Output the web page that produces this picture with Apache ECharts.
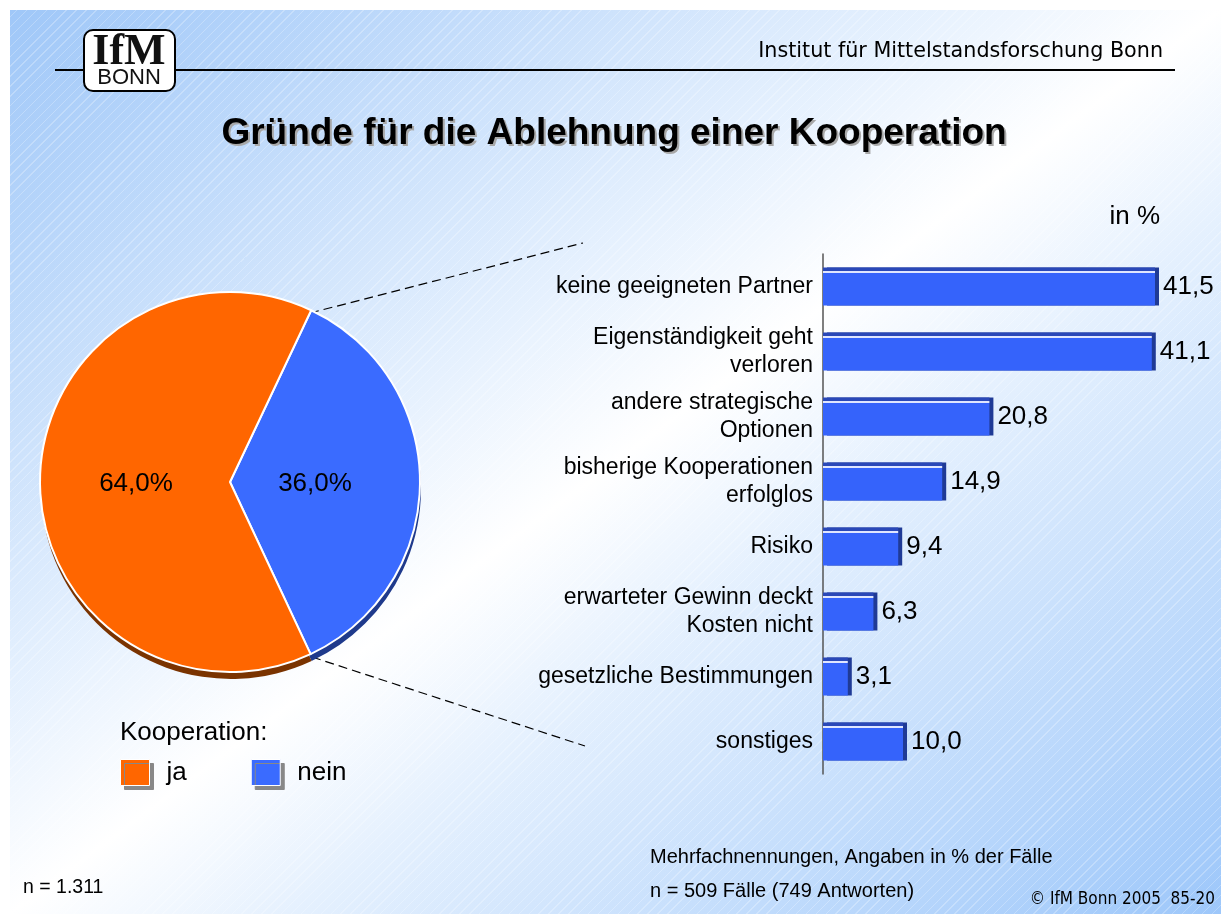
<!DOCTYPE html>
<html lang="de">
<head>
    <meta charset="UTF-8">
    <title>Gründe für die Ablehnung einer Kooperation</title>
    <script src="https://cdn.jsdelivr.net/npm/echarts@6/dist/echarts.min.js"></script>
    <style>
        body { margin: 0; background: #fff; }
        #bg {
            position: absolute; left: 10px; top: 10px; width: 1211px; height: 904px;
            background:
                repeating-linear-gradient(-45deg, rgba(255,255,255,0) 0px, rgba(255,255,255,0) 6px, rgba(255,255,255,0.25) 6px, rgba(255,255,255,0.25) 7px),
                linear-gradient(to bottom right, #9fc7f8 0%, #e6f1fe 38%, #ffffff 50%, #e4f0fe 62%, #9dc7fa 100%);
        }
        #myChart { position: absolute; left: 0; top: 0; width: 1221px; height: 914px; }
    </style>
</head>
<body>
<div id="bg"></div>
<div id="myChart"></div>
<script type="text/javascript">
    // Kooperation ja / nein (Kreis)
    var pieNames = ['nein', 'ja'];
    var pieValues = [36.0, 64.0];
    var pieColors = ['#3a6bff', '#ff6600'];
    var pieDark = ['#1f3a8c', '#7a3300'];

    // Gründe (Balken), in %
    var reasons = [
        'keine geeigneten Partner',
        'Eigenständigkeit geht\nverloren',
        'andere strategische\nOptionen',
        'bisherige Kooperationen\nerfolglos',
        'Risiko',
        'erwarteter Gewinn deckt\nKosten nicht',
        'gesetzliche Bestimmungen',
        'sonstiges'
    ];
    var reasonValues = [41.5, 41.1, 20.8, 14.9, 9.4, 6.3, 3.1, 10.0];

    var myChart = echarts.init(document.getElementById('myChart'));

    function fmt(v) {
        return v.toFixed(1).replace('.', ',');
    }

    // Beschriftung im Kreis etwas verschieben
    var pieLabelOffset = { nein: [-13, 2], ja: [4, 2] };

    var pieData = [];
    var shadowData = [];
    for (var i = 0; i < pieNames.length; i++) {
        pieData.push({
            name: pieNames[i],
            value: pieValues[i],
            itemStyle: { color: pieColors[i] },
            label: { offset: pieLabelOffset[pieNames[i]] }
        });
        shadowData.push({ name: pieNames[i] + '_s', value: pieValues[i], itemStyle: { color: pieDark[i] } });
    }

    var barColor = new echarts.graphic.LinearGradient(0, 0, 0, 1, [
        { offset: 0, color: '#2a48b8' },
        { offset: 0.1, color: '#2a48b8' },
        { offset: 0.1, color: '#dfe6ff' },
        { offset: 0.14, color: '#dfe6ff' },
        { offset: 0.14, color: '#3563fb' },
        { offset: 1, color: '#3563fb' }
    ]);

    var sans = '"Liberation Sans", Arial, sans-serif';

    var option = {
        animation: false,
        textStyle: { fontFamily: sans },
        grid: { left: 823, top: 254, width: 360, height: 520, containLabel: false },
        xAxis: { type: 'value', min: 0, max: 45, show: false },
        yAxis: {
            type: 'category',
            data: reasons,
            inverse: true,
            axisTick: { show: false },
            axisLine: { show: true, lineStyle: { color: '#555', width: 1.5 } },
            axisLabel: { fontSize: 23, lineHeight: 28, color: '#000', margin: 10 }
        },
        legend: {
            data: ['ja', 'nein'],
            left: 120, top: 759,
            padding: 0,
            icon: 'rect',
            itemWidth: 29, itemHeight: 26,
            itemGap: 64,
            selectedMode: false,
            itemStyle: { borderColor: '#ffffff', borderWidth: 1, shadowColor: '#888', shadowOffsetX: 4, shadowOffsetY: 4, shadowBlur: 0 },
            textStyle: { fontSize: 26, color: '#000', padding: [0, 0, 0, 12] }
        },
        series: [
            {
                name: 'schatten',
                type: 'pie',
                center: [231, 489],
                radius: 190,
                startAngle: 64.7,
                silent: true,
                z: 1,
                label: { show: false },
                labelLine: { show: false },
                data: shadowData
            },
            {
                name: 'Kooperation',
                type: 'pie',
                center: [230, 482],
                radius: 190,
                startAngle: 64.7,
                z: 2,
                itemStyle: { borderColor: '#ffffff', borderWidth: 2 },
                label: {
                    show: true,
                    position: 'inside',
                    fontSize: 26,
                    color: '#000',
                    formatter: function (p) { return fmt(p.value) + '%'; }
                },
                data: pieData
            },
            {
                name: 'Gründe',
                type: 'bar',
                barWidth: 38,
                data: reasonValues,
                itemStyle: {
                    color: barColor,
                    shadowColor: '#1f3a96',
                    shadowOffsetX: 4,
                    shadowOffsetY: 0,
                    shadowBlur: 0
                },
                label: {
                    show: true,
                    position: 'right',
                    distance: 8,
                    fontSize: 26,
                    color: '#000',
                    formatter: function (p) { return fmt(p.value); }
                }
            }
        ],
        graphic: [
            // Kopfzeile mit Logo
            { type: 'line', shape: { x1: 55, y1: 70, x2: 1175, y2: 70 }, style: { stroke: '#000', lineWidth: 2 }, z: 1 },
            { type: 'rect', shape: { x: 84, y: 30, width: 91, height: 61, r: 9 }, style: { fill: '#fff', stroke: '#000', lineWidth: 2 }, z: 2 },
            { type: 'text', x: 129, y: 53, style: { text: 'IfM', font: 'bold 44px "Liberation Serif", "DejaVu Serif", serif', fill: '#111', align: 'center', verticalAlign: 'middle' }, z: 3 },
            { type: 'text', x: 129, y: 78, style: { text: 'BONN', font: '22px "Liberation Sans", Arial, sans-serif', fill: '#111', align: 'center', verticalAlign: 'middle' }, z: 3 },
            { type: 'text', x: 1163, y: 52, style: { text: 'Institut für Mittelstandsforschung Bonn', font: '20.7px "DejaVu Sans", sans-serif', fill: '#000', align: 'right', verticalAlign: 'middle' } },
            // Titel mit Schatten
            { type: 'text', x: 616, y: 136, style: { text: 'Gründe für die Ablehnung einer Kooperation', font: 'bold 37px "Liberation Sans", Arial, sans-serif', fill: '#a8a8a8', align: 'center', verticalAlign: 'middle' } },
            { type: 'text', x: 614, y: 134, style: { text: 'Gründe für die Ablehnung einer Kooperation', font: 'bold 37px "Liberation Sans", Arial, sans-serif', fill: '#000', align: 'center', verticalAlign: 'middle' } },
            { type: 'text', x: 1160, y: 217, style: { text: 'in %', font: '26px "Liberation Sans", Arial, sans-serif', fill: '#000', align: 'right', verticalAlign: 'middle' } },
            // Verbindungslinien Kreis -> Balken
            { type: 'line', shape: { x1: 310, y1: 313, x2: 583, y2: 243 }, style: { stroke: '#000', lineWidth: 1.2, lineDash: [9, 5] } },
            { type: 'line', shape: { x1: 312, y1: 657, x2: 585, y2: 746 }, style: { stroke: '#000', lineWidth: 1.2, lineDash: [9, 5] } },
            // Legende Titel
            { type: 'text', x: 120, y: 733, style: { text: 'Kooperation:', font: '26px "Liberation Sans", Arial, sans-serif', fill: '#000', verticalAlign: 'middle' } },
            // Fußnoten
            { type: 'text', x: 23, y: 888, style: { text: 'n = 1.311', font: '19.5px "Liberation Sans", Arial, sans-serif', fill: '#000', verticalAlign: 'middle' } },
            { type: 'text', x: 650, y: 857, style: { text: 'Mehrfachnennungen, Angaben in % der Fälle', font: '20px "Liberation Sans", Arial, sans-serif', fill: '#000', verticalAlign: 'middle' } },
            { type: 'text', x: 650, y: 891, style: { text: 'n = 509 Fälle (749 Antworten)', font: '20px "Liberation Sans", Arial, sans-serif', fill: '#000', verticalAlign: 'middle' } },
            { type: 'text', x: 1215, y: 900, style: { text: '© IfM Bonn 2005  85-20', font: '17px "DejaVu Sans Condensed", "DejaVu Sans", sans-serif', fill: '#000', align: 'right', verticalAlign: 'middle' } }
        ]
    };

    myChart.setOption(option);
    window.onresize = function () {
        myChart.resize();
    };
</script>
</body>
</html>
